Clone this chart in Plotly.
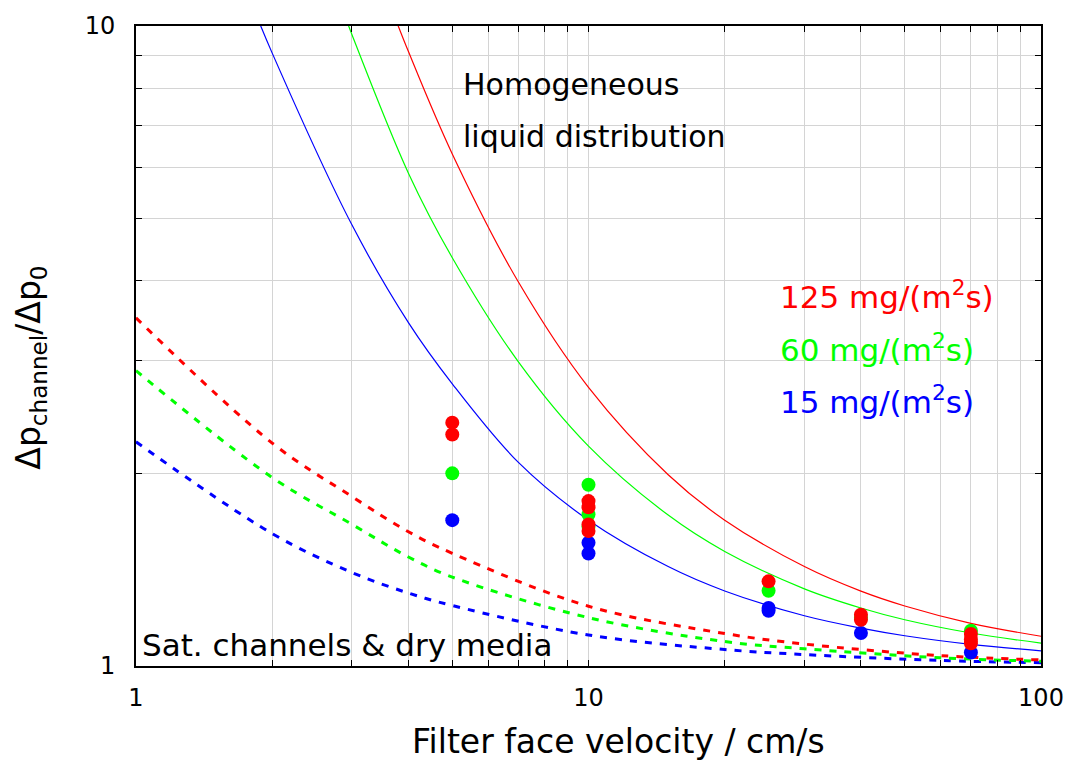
import plotly.graph_objects as go

# Model curves: homogeneous liquid distribution (solid), face velocity in cm/s
hom_v_15 = [1.8, 2, 3, 4, 5, 7, 10, 15, 20, 30, 40, 50, 70, 100]
hom_y_15 = [10.86, 9.07, 4.89, 3.44, 2.76, 2.08, 1.69, 1.43, 1.31, 1.198, 1.146, 1.115, 1.081, 1.056]

hom_v_60 = [2.8, 3, 4, 5, 7, 10, 15, 20, 30, 40, 50, 70, 100]
hom_y_60 = [11.06, 9.7, 5.89, 4.345, 2.987, 2.206, 1.721, 1.51, 1.32, 1.232, 1.181, 1.126, 1.086]

hom_v_125 = [3.7, 4, 5, 7, 10, 15, 20, 30, 40, 50, 70, 100]
hom_y_125 = [10.49, 9.12, 6.31, 3.98, 2.725, 1.99, 1.69, 1.43, 1.309, 1.241, 1.166, 1.113]

# Saturated channels & dry media (dashed)
sat_v = [1, 2, 3, 4, 5, 10, 20, 30, 60, 100]
sat_y_125 = [3.50, 2.23, 1.84, 1.621, 1.50, 1.24, 1.124, 1.082, 1.038, 1.022]
sat_y_60 = [2.894, 1.97, 1.665, 1.48, 1.377, 1.19, 1.092, 1.064, 1.03, 1.017]
sat_y_15 = [2.24, 1.61, 1.40, 1.30, 1.243, 1.118, 1.061, 1.042, 1.02, 1.012]

# Measurements
meas_v_15 = [5, 10, 10, 25, 25, 40, 70]
meas_y_15 = [1.69, 1.558, 1.499, 1.22, 1.232, 1.126, 1.05]
meas_v_60 = [5, 10, 10, 10, 25, 40, 70]
meas_y_60 = [2.0, 1.92, 1.725, 1.65, 1.311, 1.19, 1.135]
meas_v_125 = [5, 5, 10, 10, 10, 10, 25, 40, 40, 70, 70, 70]
meas_y_125 = [2.40, 2.30, 1.81, 1.77, 1.664, 1.625, 1.356, 1.203, 1.181, 1.122, 1.10, 1.085]

x_major = [1, 10, 100]
x_minor = [2, 3, 4, 5, 6, 7, 8, 9, 20, 30, 40, 50, 60, 70, 80, 90]
y_major = [1, 10]
y_minor = [2, 3, 4, 5, 6, 7, 8, 9]

RED, GREEN, BLUE = "#ff0000", "#00ff00", "#0000ff"
FONT = "DejaVu Sans"
GRID = "#d4d4d4"

fig = go.Figure()

for yv, c in [(sat_y_15, BLUE), (sat_y_60, GREEN), (sat_y_125, RED)]:
    fig.add_trace(go.Scatter(x=sat_v, y=yv, mode="lines", line_shape="spline",
                             line=dict(color=c, width=3, dash="7px,8px"),
                             showlegend=False, hoverinfo="skip"))

for xv, yv, c in [(hom_v_15, hom_y_15, BLUE), (hom_v_60, hom_y_60, GREEN),
                  (hom_v_125, hom_y_125, RED)]:
    fig.add_trace(go.Scatter(x=xv, y=yv, mode="lines", line_shape="spline",
                             line=dict(color=c, width=1.2),
                             showlegend=False, hoverinfo="skip"))

for xv, yv, c in [(meas_v_15, meas_y_15, BLUE), (meas_v_60, meas_y_60, GREEN),
                  (meas_v_125, meas_y_125, RED)]:
    fig.add_trace(go.Scatter(x=xv, y=yv, mode="markers",
                             marker=dict(color=c, size=14, line=dict(width=0)),
                             showlegend=False))

axis_common = dict(
    type="log", showline=True, linecolor="black", linewidth=2, mirror="allticks",
    ticks="inside", ticklen=6, tickwidth=1, tickcolor="black",
    showgrid=True, gridcolor=GRID, gridwidth=1, zeroline=False,
    tickfont=dict(family=FONT, size=24, color="black"),
)

fig.update_xaxes(range=[0, 2], tickmode="array", tickvals=x_major,
                 ticktext=[str(v) for v in x_major], ticklabelstandoff=9,
                 minor=dict(tickmode="array", tickvals=x_minor, ticks="inside",
                            ticklen=6, tickcolor="black", showgrid=True,
                            gridcolor=GRID, gridwidth=1),
                 **axis_common)
fig.update_yaxes(range=[0, 1], tickmode="array", tickvals=y_major,
                 ticktext=[str(v) for v in y_major], ticklabelstandoff=14,
                 minor=dict(tickmode="array", tickvals=y_minor, ticks="inside",
                            ticklen=6, tickcolor="black", showgrid=True,
                            gridcolor=GRID, gridwidth=1),
                 **axis_common)

def note(text, x, y, color="black", size=31, xanchor="left", angle=0):
    fig.add_annotation(text=text, x=x, y=y, xref="paper", yref="paper",
                       xanchor=xanchor, yanchor="middle", showarrow=False,
                       textangle=angle,
                       font=dict(family=FONT, size=size, color=color))

note("Homogeneous", 0.359, 0.9085, size=30)
note("liquid distribution", 0.359, 0.828, size=30)
note("125 mg/(m<sup>2</sup>s)", 0.709, 0.5798, RED)
note("60 mg/(m<sup>2</sup>s)", 0.709, 0.4961, GREEN)
note("15 mg/(m<sup>2</sup>s)", 0.709, 0.4155, BLUE)
note("Sat. channels & dry media", 0.004, 0.0326)
note("Filter face velocity / cm/s", 0.533, -0.118, size=33, xanchor="center")
note("Δp<sub>channel</sub>/Δp<sub>0</sub>", -0.1167, 0.4667, size=33,
     xanchor="center", angle=-90)

fig.update_layout(
    width=1076, height=762,
    margin=dict(l=136, r=32, t=21, b=96),
    plot_bgcolor="white", paper_bgcolor="white",
    font=dict(family=FONT, color="black"),
)

fig.write_html("out.html")
